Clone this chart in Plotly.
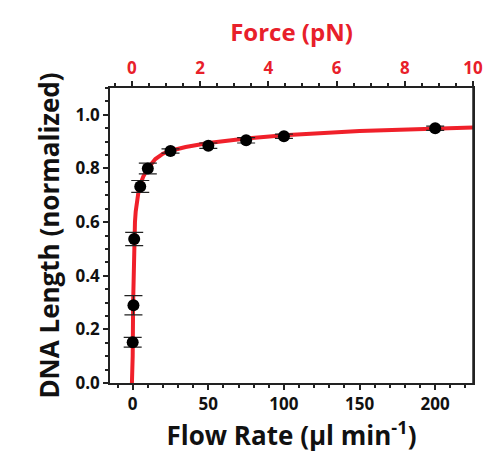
import plotly.graph_objects as go

flow = [0, 0.5, 1, 5, 10, 25, 50, 75, 100, 200]
length = [0.152, 0.29, 0.537, 0.733, 0.80, 0.865, 0.885, 0.905, 0.92, 0.95]
err = [0.018, 0.036, 0.025, 0.022, 0.02, 0.008, 0.01, 0.01, 0.008, 0.008]

# fitted curve
fit_x = [-0.5, 0, 0.3, 0.7, 1, 1.5, 2, 3, 4, 5, 7, 10, 15, 20, 25, 35, 50, 75, 100, 150, 200, 225]
fit_y = [0.0, 0.1, 0.3, 0.45, 0.53, 0.6, 0.64, 0.69, 0.72, 0.74, 0.77, 0.80, 0.835, 0.855, 0.866, 0.88, 0.895, 0.912, 0.924, 0.94, 0.95, 0.953]

font = "Open Sans"
fig = go.Figure()
fig.add_trace(go.Scatter(x=fit_x, y=fit_y, mode="lines", line=dict(color="#f0202a", width=4), hoverinfo="skip"))
fig.add_trace(go.Scatter(x=flow, y=length, mode="markers",
                         marker=dict(color="black", size=12),
                         error_y=dict(array=err, color="#222", thickness=1.2, width=9)))
fig.add_trace(go.Scatter(x=[0], y=[-1], xaxis="x2", mode="markers", showlegend=False, hoverinfo="skip"))

ax = dict(showline=True, linecolor="#222", linewidth=1.5, ticks="outside", ticklen=5, tickwidth=1.5,
          tickcolor="#222", showgrid=False, zeroline=False,
          minor=dict(ticks="outside", ticklen=3, tickcolor="#222"))
fig.update_layout(
    width=499, height=467, showlegend=False,
    margin=dict(l=102, r=34, t=80, b=92),
    plot_bgcolor="white", paper_bgcolor="white",
    font=dict(family=font, color="#111"),
    xaxis=dict(ax, range=[-15, 225], tickvals=[0, 50, 100, 150, 200],
               tickfont=dict(size=17, family=font, weight="bold"),
               title=dict(text="<b>Flow Rate (µl min<sup>-1</sup>)</b>", font=dict(size=26), standoff=2)),
    xaxis2=dict(ax, overlaying="x", side="top", range=[-0.64, 10], dtick=2,
                tickfont=dict(size=17, color="#e8202a", weight="bold"),
                title=dict(text="<b>Force (pN)</b>", font=dict(size=24, color="#e8202a"), standoff=8)),
    yaxis=dict(ax, range=[0, 1.1], dtick=0.2, tickformat=".1f", mirror=True,
               tickfont=dict(size=17, weight="bold"),
               title=dict(text="<b>DNA Length (normalized)</b>", font=dict(size=26), standoff=8)),
)
fig.update_xaxes(mirror=False)
fig.add_shape(type="line", xref="paper", yref="paper", x0=-0.3, x1=1.1, y0=1.28, y1=1.28,
              line=dict(color="#1f5fa6", width=2))
fig.add_shape(type="line", xref="paper", yref="paper", x0=1, x1=1, y0=0, y1=1,
              line=dict(color="#222", width=1.5))
fig.write_html("out.html")
